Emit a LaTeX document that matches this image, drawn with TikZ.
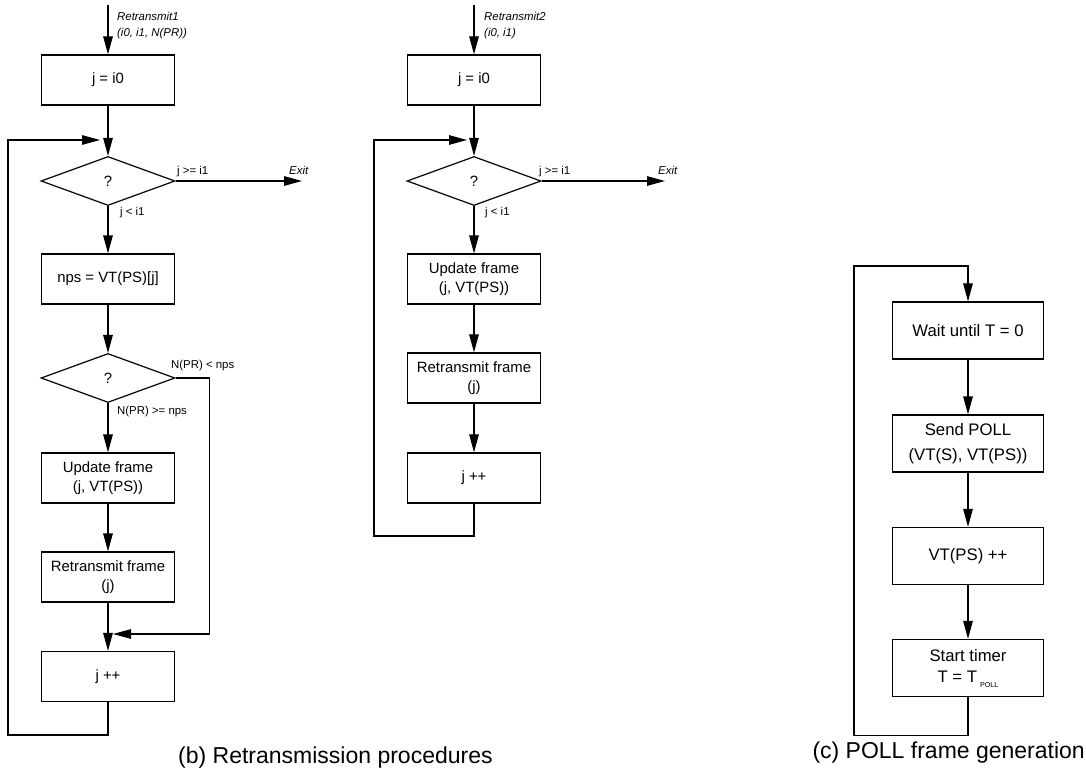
\documentclass[tikz,border=0pt]{standalone}
\usepackage{fontspec}
\setmainfont{Liberation Sans}
\usetikzlibrary{arrows.meta,shapes.geometric}

\tikzset{
  flow/.style={line width=1.2pt},
  arr/.style={flow,-{Triangle[length=18pt,width=9.5pt]}},
  proc/.style={draw,line width=1.2pt,minimum width=133pt,minimum height=50pt,
    inner sep=0pt,align=center,font=\fontsize{14.9}{18.5}\selectfont},
  bigproc/.style={proc,minimum width=151pt,minimum height=57pt,
    font=\fontsize{16.7}{21}\selectfont},
  test/.style={draw,diamond,line width=1.2pt,aspect=2.7,minimum width=134pt,
    minimum height=49pt,inner sep=0pt,font=\fontsize{14.9}{18}\selectfont},
  lbl/.style={inner sep=0pt,anchor=west,font=\fontsize{11.4}{13}\selectfont},
  ilbl/.style={inner sep=0pt,anchor=west,align=left,
    font=\fontsize{11.4}{15.5}\selectfont\itshape},
  capt/.style={inner sep=0pt,font=\fontsize{23}{26}\selectfont}
}

\begin{document}
\begin{tikzpicture}[x=1pt,y=-1pt]
\useasboundingbox (0,0) rectangle (1086,773);

% ---- Retransmit1 ----
\coordinate (s1) at (108,5);
\node[proc] (a1) at (108,80) {j = i0};
\node[test] (d1) at (108,181) {?};
\node[proc] (b1) at (108,279) {nps = VT(PS)[j]};
\node[test] (e1) at (108,378) {?};
\node[proc] (u1) at (108,478) {Update frame\\(j, VT(PS))};
\node[proc] (r1) at (108,577) {Retransmit frame\\(j)};
\node[proc] (k1) at (108,676.5) {j ++};
\coordinate (x1) at (302,181);
\coordinate (l1) at (100,140);
\coordinate (j1) at (113,634);

\draw[arr] (s1) -- (a1);
\draw[arr] (a1) -- (d1);
\draw[arr] (d1) -- (b1);
\draw[arr] (b1) -- (e1);
\draw[arr] (e1) -- (u1);
\draw[arr] (u1) -- (r1);
\draw[arr] (r1) -- (k1);
\draw[arr] (d1.east) -- (x1);
\draw[arr] (e1.east) -- ++(34,0) |- (j1);
\draw[arr] (k1.south) |- (8,735) |- (l1);

\node[ilbl] at (117,25.5) {Retransmit1\\(i0, i1, N(PR))};
\node[lbl] at (177,172) {j >= i1};
\node[ilbl] at (289,170) {Exit};
\node[lbl] at (120,213) {j < i1};
\node[lbl] at (171,366) {N(PR) < nps};
\node[lbl] at (117,412) {N(PR) >= nps};

% ---- Retransmit2 ----
\coordinate (s2) at (474,5);
\node[proc] (a2) at (474,80) {j = i0};
\node[test] (d2) at (474,181) {?};
\node[proc] (u2) at (474,279) {Update frame\\(j, VT(PS))};
\node[proc] (r2) at (474,378) {Retransmit frame\\(j)};
\node[proc] (k2) at (474,478) {j ++};
\coordinate (x2) at (665,181);
\coordinate (l2) at (467,140);

\draw[arr] (s2) -- (a2);
\draw[arr] (a2) -- (d2);
\draw[arr] (d2) -- (u2);
\draw[arr] (u2) -- (r2);
\draw[arr] (r2) -- (k2);
\draw[arr] (d2.east) -- (x2);
\draw[arr] (k2.south) |- (374,536) |- (l2);

\node[ilbl] at (484,25.5) {Retransmit2\\(i0, i1)};
\node[lbl] at (539,172) {j >= i1};
\node[ilbl] at (658,170) {Exit};
\node[lbl] at (485,213) {j < i1};

% ---- POLL generation ----
\node[bigproc] (w3) at (968,330.5) {Wait until T = 0};
\node[bigproc] (p3) at (968,443.5) {Send POLL\\[4pt](VT(S), VT(PS))};
\node[bigproc] (v3) at (968,556) {VT(PS) ++};
\node[bigproc] (t3) at (968,668) {Start timer\\T = T\hspace{3pt}\raisebox{-5pt}{\fontsize{7.2}{8}\selectfont POLL}};

\draw[arr] (w3) -- (p3);
\draw[arr] (p3) -- (v3);
\draw[arr] (v3) -- (t3);
\draw[arr] (t3.south) -- ++(0,38) -| (854,266) -| (w3.north);

% ---- captions ----
\node[capt,anchor=base west] (cb) at (178,763) {(b) Retransmission procedures};
\node[capt,anchor=base east] (cc) at (1085,758) {(c) POLL frame generation};
\end{tikzpicture}
\end{document}
